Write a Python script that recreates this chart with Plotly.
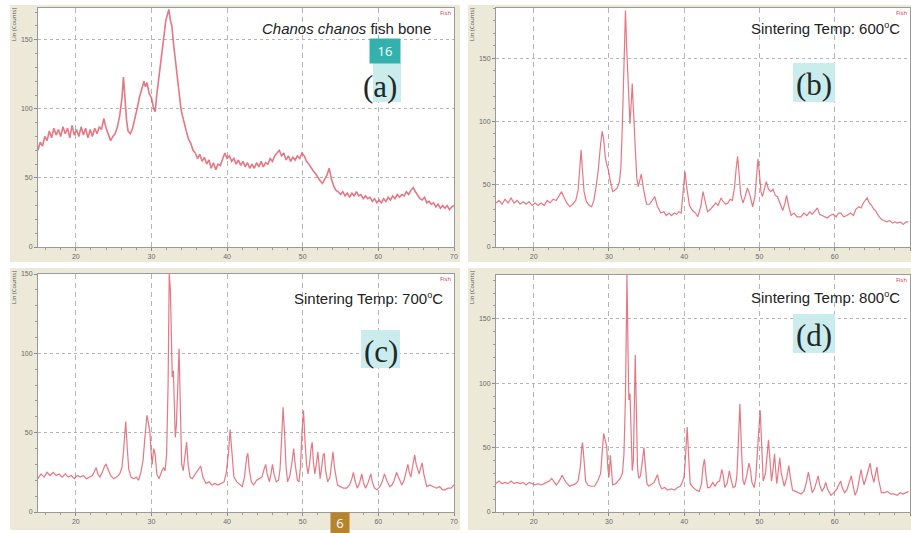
import plotly.graph_objects as go

W, H = 911, 533

# 2-theta (deg), intensity (counts)
PANEL_A = [(15.0,70),(15.3,76),(15.6,73),(15.9,80),(16.2,77),(16.5,84),(16.8,79),(17.1,86),(17.4,81),(17.7,85),
 (18.0,80),(18.3,87),(18.6,82),(18.9,86),(19.2,79),(19.5,88),(19.8,81),(20.1,85),(20.4,80),(20.7,87),(21.0,81),
 (21.3,86),(21.6,79),(21.9,85),(22.2,80),(22.5,86),(22.8,82),(23.1,87),(23.4,85),(23.7,93),(24.0,86),(24.3,82),
 (24.6,77),(24.9,80),(25.2,82),(25.5,87),(25.8,95),(26.1,108),(26.3,123),(26.5,108),(26.7,92),(26.9,84),(27.2,82),
 (27.5,86),(27.8,92),(28.1,100),(28.4,108),(28.7,114),(29.0,120),(29.2,116),(29.4,119),(29.7,111),(30.0,108),
 (30.3,100),(30.5,98),(30.7,110),(30.9,119),(31.1,128),(31.3,138),(31.5,148),(31.7,156),(31.9,164),(32.1,168),
 (32.3,172),(32.5,164),(32.7,160),(32.9,148),(33.1,138),(33.3,127),(33.5,120),(33.7,110),(33.9,100),(34.1,95),
 (34.3,90),(34.6,84),(34.9,78),(35.2,75),(35.5,70),(35.8,68),(36.1,64),(36.4,67),(36.7,62),(37.0,65),(37.3,60),
 (37.6,63),(37.9,57),(38.2,61),(38.5,56),(38.8,60),(39.1,59),(39.4,64),(39.7,68),(40.0,64),(40.3,66),(40.6,62),
 (40.9,64),(41.2,60),(41.5,63),(41.8,59),(42.1,62),(42.4,58),(42.7,61),(43.0,57),(43.3,60),(43.6,57),(43.9,61),
 (44.2,58),(44.5,62),(44.8,58),(45.1,61),(45.4,60),(45.7,64),(46.0,62),(46.3,66),(46.6,68),(46.9,70),(47.2,66),
 (47.5,68),(47.8,63),(48.1,66),(48.4,62),(48.7,65),(49.0,63),(49.3,66),(49.6,64),(49.9,68),(50.2,66),(50.5,62),
 (50.8,60),(51.1,57),(51.4,55),(51.7,53),(52.0,50),(52.3,48),(52.6,46),(52.9,49),(53.2,52),(53.5,57),(53.8,49),
 (54.1,44),(54.4,41),(54.7,40),(55.0,38),(55.3,40),(55.6,37),(55.9,39),(56.2,36),(56.5,39),(56.8,37),(57.1,40),
 (57.4,37),(57.7,38),(58.0,35),(58.3,37),(58.6,35),(58.9,36),(59.2,33),(59.5,35),(59.8,32),(60.1,34),(60.4,32),
 (60.7,35),(61.0,33),(61.3,36),(61.6,34),(61.9,37),(62.2,35),(62.5,38),(62.8,36),(63.1,38),(63.4,37),(63.7,40),
 (64.0,38),(64.3,41),(64.6,43),(64.9,40),(65.2,37),(65.5,35),(65.8,34),(66.1,36),(66.4,32),(66.7,33),(67.0,31),
 (67.3,32),(67.6,29),(67.9,31),(68.2,28),(68.5,30),(68.8,28),(69.1,30),(69.4,27),(69.7,29),(70.0,30)]

PANEL_B = [(15.0,35),(15.4,37),(15.8,34),(16.2,38),(16.6,35),(17.0,39),(17.4,35),(17.8,37),(18.2,34),(18.6,36),
 (19.0,34),(19.4,36),(19.8,33),(20.2,35),(20.6,33),(21.0,35),(21.4,33),(21.8,37),(22.2,35),(22.6,38),(23.0,37),
 (23.4,41),(23.7,44),(24.0,40),(24.4,35),(24.8,32),(25.2,34),(25.6,37),(25.9,45),(26.1,60),(26.3,77),(26.5,60),
 (26.7,44),(27.0,36),(27.4,33),(27.7,32),(28.0,37),(28.3,48),(28.6,62),(28.9,82),(29.1,92),(29.3,86),(29.5,72),
 (29.7,66),(29.9,62),(30.1,55),(30.3,48),(30.5,44),(30.8,45),(31.1,47),(31.4,52),(31.6,64),(31.8,100),(32.0,150),
 (32.2,188),(32.35,160),(32.5,140),(32.65,110),(32.8,98),(33.0,118),(33.1,130),(33.25,110),(33.5,80),(33.7,55),
 (33.9,48),(34.1,52),(34.3,58),(34.6,46),(35.0,34),(35.4,34),(35.8,38),(36.1,40),(36.4,33),(36.7,29),(36.9,27),
 (37.3,28),(37.6,25),(38.0,27),(38.3,25),(38.7,27),(39.0,26),(39.3,28),(39.6,27),(39.8,40),(40.1,60),(40.4,45),
 (40.7,33),(41.1,29),(41.5,27),(41.8,24),(42.2,32),(42.5,44),(42.8,35),(43.1,28),(43.5,30),(43.8,32),(44.2,35),
 (44.5,33),(44.9,39),(45.2,36),(45.5,34),(45.8,35),(46.1,38),(46.4,37),(46.7,48),(46.9,62),(47.1,72),(47.3,58),
 (47.5,42),(47.8,35),(48.1,40),(48.4,47),(48.7,42),(49.1,32),(49.4,40),(49.6,55),(49.8,70),(50.0,58),(50.2,44),
 (50.4,40),(50.7,48),(50.9,52),(51.2,46),(51.5,44),(51.8,46),(52.1,41),(52.4,40),(52.7,35),(53.1,29),(53.4,35),
 (53.6,41),(53.9,32),(54.2,25),(54.6,27),(55.0,24),(55.5,24),(55.9,27),(56.3,25),(56.7,28),(57.0,26),(57.4,29),
 (57.7,31),(58.0,26),(58.4,25),(58.7,24),(59.0,23),(59.4,25),(59.8,26),(60.2,24),(60.5,27),(60.8,27),(61.2,24),
 (61.6,25),(62.1,27),(62.5,25),(62.8,30),(63.2,32),(63.5,31),(63.8,35),(64.1,37),(64.3,39),(64.6,35),(64.9,33),
 (65.2,30),(65.4,29),(65.8,25),(66.2,22),(66.5,21),(66.9,20),(67.3,21),(67.7,19),(68.0,20),(68.3,19),(68.7,20),
 (69.1,18),(69.5,20),(69.8,20)]

PANEL_C = [(15.0,21),(15.4,24),(15.8,22),(16.2,25),(16.6,23),(17.0,25),(17.4,23),(17.8,24),(18.2,22),(18.6,24),
 (19.0,22),(19.4,23),(19.8,21),(20.2,23),(20.6,22),(21.0,23),(21.4,21),(21.8,22),(22.2,23),(22.5,26),(22.7,28),
 (22.9,24),(23.2,22),(23.5,25),(23.8,29),(24.0,30),(24.3,26),(24.6,23),(25.0,21),(25.4,22),(25.8,24),(26.1,28),
 (26.3,38),(26.5,52),(26.6,57),(26.8,40),(27.0,27),(27.3,22),(27.7,21),(28.0,22),(28.3,20),(28.6,25),(28.9,33),
 (29.1,45),(29.3,58),(29.4,61),(29.6,56),(29.8,50),(29.95,38),(30.1,30),(30.3,40),(30.5,36),(30.7,24),(31.0,21),
 (31.3,25),(31.6,28),(31.8,26),(32.0,36),(32.2,80),(32.35,150),(32.5,140),(32.65,93),(32.75,85),(32.9,89),
 (33.05,55),(33.15,47),(33.3,55),(33.5,85),(33.65,103),(33.8,70),(34.0,30),(34.2,26),(34.45,36),(34.65,44),
 (34.85,30),(35.1,22),(35.4,21),(35.8,24),(36.2,27),(36.5,29),(36.8,22),(37.2,18),(37.6,19),(38.0,17),(38.4,18),
 (38.8,17),(39.2,18),(39.6,19),(39.9,25),(40.2,38),(40.4,52),(40.6,38),(40.9,22),(41.3,19),(41.7,17),(42.0,16),
 (42.3,22),(42.6,35),(42.75,37),(42.9,28),(43.2,19),(43.5,17),(43.9,20),(44.3,21),(44.6,22),(44.9,27),(45.1,30),
 (45.3,24),(45.6,19),(45.8,24),(46.0,30),(46.2,24),(46.5,19),(46.8,20),(47.0,27),(47.2,45),(47.4,66),(47.6,50),
 (47.8,28),(48.0,19),(48.3,23),(48.6,32),(48.8,40),(49.0,30),(49.3,20),(49.5,19),(49.7,28),(49.9,50),(50.1,64),
 (50.3,45),(50.5,30),(50.7,24),(50.9,30),(51.1,40),(51.25,44),(51.4,32),(51.6,24),(51.8,30),(52.0,38),(52.15,30),
 (52.3,21),(52.5,28),(52.7,36),(52.85,37),(53.0,27),(53.3,19),(53.6,22),(53.85,32),(54.0,38),(54.2,28),(54.6,17),
 (55.0,16),(55.4,15),(55.8,15),(56.2,17),(56.5,21),(56.7,25),(56.9,20),(57.2,15),(57.5,18),(57.8,24),(58.0,19),
 (58.3,15),(58.6,18),(59.0,24),(59.2,19),(59.5,15),(59.8,14),(60.2,16),(60.5,19),(60.8,24),(61.1,20),(61.5,16),
 (61.8,17),(62.1,20),(62.4,25),(62.7,21),(63.1,17),(63.4,20),(63.7,26),(63.9,30),(64.1,25),(64.3,22),(64.5,28),
 (64.7,34),(64.8,36),(65.0,30),(65.2,26),(65.4,24),(65.6,28),(65.8,31),(66.0,24),(66.4,16),(66.8,17),(67.3,16),
 (67.7,15),(68.1,16),(68.5,14),(68.8,14),(69.2,15),(69.6,15),(70.0,17)]

PANEL_D = [(15.0,22),(15.4,24),(15.8,22),(16.2,23),(16.6,22),(17.0,24),(17.4,22),(17.8,23),(18.2,22),(18.6,23),
 (19.0,21),(19.4,23),(19.8,22),(20.2,21),(20.6,22),(21.0,21),(21.4,22),(21.8,23),(22.1,24),(22.4,26),(22.7,23),
 (23.0,21),(23.3,23),(23.6,27),(23.8,28.5),(24.0,26),(24.3,23),(24.8,20),(25.2,21),(25.6,22),(25.9,24),(26.2,35),
 (26.4,50),(26.5,54),(26.7,40),(26.9,24),(27.2,21),(27.6,20),(28.1,20),(28.5,24),(28.9,30),(29.1,45),(29.3,61),
 (29.5,56),(29.7,51),(29.85,35),(30.0,27),(30.2,44),(30.35,32),(30.5,21),(30.9,22),(31.2,24),(31.5,26),(31.8,30),
 (32.0,45),(32.2,90),(32.4,184),(32.55,120),(32.65,87),(32.8,92),(32.95,60),(33.1,32),(33.25,40),(33.4,100),
 (33.5,122),(33.65,80),(33.8,35),(33.95,26),(34.2,28),(34.45,40),(34.65,50),(34.85,35),(35.05,22),(35.3,20),
 (35.7,22),(36.0,23),(36.3,27),(36.45,29),(36.7,22),(37.0,18),(37.4,19),(37.8,17),(38.3,18),(38.7,17),(39.1,19),
 (39.5,20),(39.8,24),(40.0,28),(40.2,45),(40.4,66),(40.6,42),(40.8,22),(41.2,19),(41.6,17),(42.0,16),(42.3,22),
 (42.5,35),(42.7,41),(42.9,28),(43.1,19),(43.4,19),(43.8,23),(44.1,20),(44.4,23),(44.7,24),(45.0,33),(45.2,28),
 (45.4,19),(45.7,22),(46.0,32),(46.2,26),(46.5,19),(46.8,20),(47.0,28),(47.2,55),(47.4,84),(47.6,50),(47.8,25),
 (48.0,21),(48.3,28),(48.6,38),(48.8,33),(49.0,23),(49.3,19),(49.5,26),(49.7,41),(49.9,62),(50.1,79),(50.3,48),
 (50.5,24),(50.8,30),(51.0,45),(51.2,56),(51.4,40),(51.6,24),(51.8,33),(52.0,45),(52.15,33),(52.3,22),(52.5,32),
 (52.7,42),(52.9,30),(53.3,20),(53.6,26),(53.9,36),(54.1,27),(54.4,17),(54.8,16),(55.2,15),(55.5,14),(55.9,16),
 (56.2,22),(56.5,31),(56.75,22),(57.0,15),(57.3,18),(57.6,24),(57.8,28),(58.0,21),(58.3,16),(58.6,19),(58.8,23),
 (59.1,17),(59.5,13),(59.9,15),(60.3,18),(60.6,22),(60.8,24),(61.0,19),(61.3,15),(61.6,17),(61.9,22),(62.2,28),
 (62.45,20),(62.7,13),(63.0,17),(63.3,25),(63.5,33),(63.7,26),(63.9,21),(64.2,27),(64.5,35),(64.7,38),(64.9,30),
 (65.2,23),(65.4,29),(65.6,35),(65.8,26),(66.2,15),(66.6,15),(67.0,16),(67.4,14),(67.8,14),(68.3,13),(68.7,15),
 (69.1,14),(69.5,15),(69.8,16)]

X_TICKS = [20, 30, 40, 50, 60, 70]
Y_TICKS = [0, 50, 100, 150]
DEG = "<sup><span style='font-size:9px'>o</span></sup>"
TITLES = ["<i>Chanos chanos</i> fish bone", "Sintering Temp: 600" + DEG + "C",
          "Sintering Temp: 700" + DEG + "C", "Sintering Temp: 800" + DEG + "C"]
LABELS = ["(a)", "(b)", "(c)", "(d)"]
Y_MAX = [173, 190, 150, 184]

def px(x):
    return x / W

def py(y):
    return 1 - y / H

# plot-area boxes in pixels: (left, right, top, bottom)
BOX = [(38, 454, 8, 247), (496, 910, 8, 247), (38, 454, 274, 512), (496, 910, 275, 512)]
FRAME = [(10, 460, 5, 262), (468, 911, 5, 262), (10, 460, 268, 530), (468, 911, 268, 530)]
BEIGE = "#ECE9D9"

fig = go.Figure()
panels = [PANEL_A, PANEL_B, PANEL_C, PANEL_D]
layout = {}
frame_shapes = []
shapes = []
annotations = []

def prect(x0, x1, y0, y1, color, layer="below"):
    return dict(type="rect", xref="paper", yref="paper", x0=px(x0), x1=px(x1), y0=py(y1), y1=py(y0),
                fillcolor=color, line=dict(width=0), layer=layer)

for i, data in enumerate(panels):
    n = "" if i == 0 else str(i + 1)
    xs = [p[0] for p in data]
    ys = [p[1] for p in data]
    fig.add_trace(go.Scatter(x=xs, y=ys, mode="lines", xaxis="x" + n, yaxis="y" + n,
                             line=dict(color="rgba(224,85,100,0.8)", width=1.6 if i == 0 else 1.2),
                             showlegend=False, hoverinfo="skip"))
    l, r, t, b = BOX[i]
    common = dict(showline=True, linecolor="#9a9a9a", linewidth=1, mirror=True,
                  ticks="outside", ticklen=3, tickcolor="#8a8a8a",
                  tickfont=dict(size=7, color="#6a6a6a", family="Liberation Sans"),
                  showgrid=True, gridcolor="#b5b5b5", gridwidth=1, zeroline=False)
    layout["xaxis" + n] = dict(common, domain=[px(l), px(r)], range=[15, 70], anchor="y" + n,
                               tickvals=X_TICKS, griddash="5px,4px",
                               minor=dict(dtick=2, ticks="outside", ticklen=2, tickcolor="#9a9a9a", showgrid=False))
    layout["yaxis" + n] = dict(common, domain=[py(b), py(t)], range=[0, Y_MAX[i]], anchor="x" + n,
                               tickvals=Y_TICKS, griddash="3px,3px",
                               minor=dict(dtick=10, ticks="outside", ticklen=2, tickcolor="#9a9a9a", showgrid=False))
    fl, fr, ft, fb = FRAME[i]
    frame_shapes.append(prect(fl, fr, ft, fb, BEIGE))
    # white plotting area tied to the subplot itself
    frame_shapes.append(dict(type="rect", xref="x" + n + " domain", yref="y" + n + " domain",
                             x0=0, x1=1, y0=0, y1=1, fillcolor="#FFFFFF", line=dict(width=0), layer="below"))
    # tiny axis caption and pattern tag
    annotations.append(dict(xref="paper", yref="paper", x=px(fl + 4), y=py(ft + 20), text="Lin (Counts)",
                            textangle=-90, showarrow=False, font=dict(size=6, color="#555"),
                            xanchor="center", yanchor="middle"))
    annotations.append(dict(xref="paper", yref="paper", x=px(r - 1), y=py(t + 5), text="Fish",
                            showarrow=False, font=dict(size=6, color="#e03040"),
                            xanchor="right", yanchor="middle"))

# titles
TITLE_POS = [(433, 29), (902, 29), (445, 298), (902, 297)]
for i in range(4):
    annotations.append(dict(xref="paper", yref="paper", x=px(TITLE_POS[i][0]), y=py(TITLE_POS[i][1]),
                            text=TITLES[i], showarrow=False, xanchor="right", yanchor="middle",
                            font=dict(size=15, color="#222", family="Liberation Sans")))

# highlighted panel letters
HL = [(373, 401, 63, 102), (793, 835, 63, 102), (361, 400, 330, 368), (793, 835, 314, 353)]
LETTER_POS = [(380, 86), (814, 84), (380.5, 351), (814, 335)]
for i in range(4):
    a, b_, c, d = HL[i]
    shapes.append(prect(a, b_, c, d, "#CBECEC", layer="above"))
    annotations.append(dict(xref="paper", yref="paper", x=px(LETTER_POS[i][0]), y=py(LETTER_POS[i][1]),
                            text=LABELS[i], showarrow=False, xanchor="center", yanchor="middle",
                            font=dict(size=31, color="#1e2a2a", family="Liberation Serif")))

# page badges
annotations.append(dict(xref="paper", yref="paper", x=px(385), y=py(51.5), text="16", showarrow=False,
                        xanchor="center", yanchor="middle", width=26, height=20, bgcolor="#33B1AC",
                        borderpad=2, font=dict(size=13, color="white", family="Open Sans")))
annotations.append(dict(xref="paper", yref="paper", x=px(340), y=py(523), text="6", showarrow=False,
                        xanchor="center", yanchor="middle", width=16, height=18, bgcolor="#B5842C",
                        borderpad=1, font=dict(size=13, color="white", family="Open Sans")))

fig.update_layout(template="none", width=W, height=H, margin=dict(l=0, r=0, t=0, b=0),
                  paper_bgcolor="#FFFFFF", plot_bgcolor="#FFFFFF", shapes=frame_shapes + shapes,
                  annotations=annotations, **layout)
fig.write_html("out.html")
